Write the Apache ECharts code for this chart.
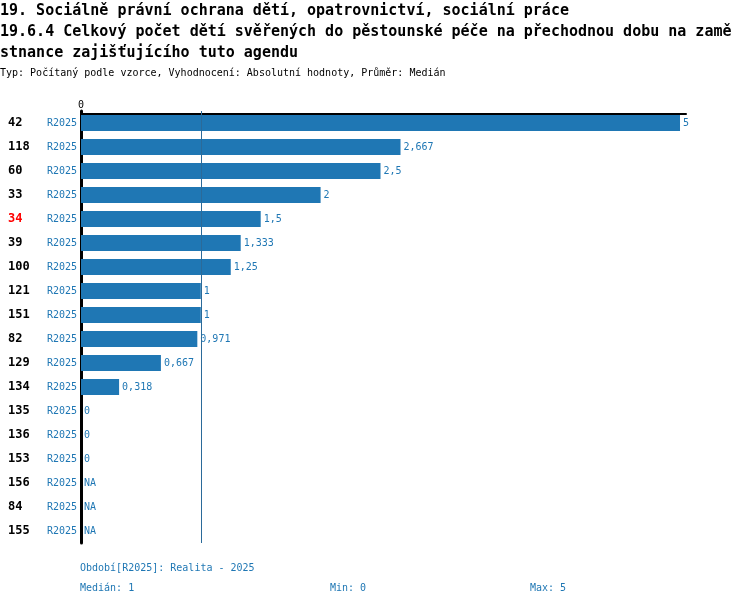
<!DOCTYPE html>
<html>
<head>
<meta charset="utf-8">
<script src="https://cdn.jsdelivr.net/npm/echarts@6/dist/echarts.min.js"></script>
<style>
  html, body { margin: 0; padding: 0; background: #fff; }
  #chart { width: 750px; height: 606px; }
</style>
</head>
<body>
<div id="chart"></div>
<script>
// data
const categories = ['42', '118', '60', '33', '34', '39', '100', '121', '151', '82', '129', '134', '135', '136', '153', '156', '84', '155']
const period = 'R2025'
const values = [5, 2.667, 2.5, 2, 1.5, 1.333, 1.25, 1, 1, 0.971, 0.667, 0.318, 0, 0, 0, null, null, null]
const highlighted = ['34']
const median = 1
const minValue = 0
const maxValue = 5

const mono = 'DejaVu Sans Mono'
const blue = '#1f77b4'

const fmt = (v) => String(v).replace('.', ',')

let chart = echarts.init(document.getElementById('chart'))

const option = {
    animation: false,
    textStyle: { fontFamily: mono },
    title: [
        {
            text: '19. Sociálně právní ochrana dětí, opatrovnictví, sociální práce\n19.6.4 Celkový počet dětí svěřených do pěstounské péče na přechodnou dobu na zamě\nstnance zajišťujícího tuto agendu',
            left: 0,
            top: 1,
            padding: 0,
            textStyle: { fontFamily: mono, fontSize: 15, fontWeight: 'bold', color: '#000', lineHeight: 21 }
        },
        {
            text: 'Typ: Počítaný podle vzorce, Vyhodnocení: Absolutní hodnoty, Průměr: Medián',
            left: 0,
            top: 68,
            padding: 0,
            textStyle: { fontFamily: mono, fontSize: 10, fontWeight: 'normal', color: '#000' }
        },
        {
            text: 'Období[' + period + ']: Realita - 2025',
            left: 80,
            top: 563,
            padding: 0,
            textStyle: { fontFamily: mono, fontSize: 10, fontWeight: 'normal', color: blue }
        },
        {
            text: 'Medián: ' + fmt(median),
            left: 80,
            top: 583,
            padding: 0,
            textStyle: { fontFamily: mono, fontSize: 10, fontWeight: 'normal', color: blue }
        },
        {
            text: 'Min: ' + fmt(minValue),
            left: 330,
            top: 583,
            padding: 0,
            textStyle: { fontFamily: mono, fontSize: 10, fontWeight: 'normal', color: blue }
        },
        {
            text: 'Max: ' + fmt(maxValue),
            left: 530,
            top: 583,
            padding: 0,
            textStyle: { fontFamily: mono, fontSize: 10, fontWeight: 'normal', color: blue }
        }
    ],
    grid: {
        left: 81,
        width: 605,
        top: 111,
        height: 432
    },
    xAxis: {
        type: 'value',
        position: 'top',
        min: 0,
        max: 5.05,
        interval: 5.05,
        offset: -3,
        axisLine: { show: true, lineStyle: { color: '#000', width: 2 } },
        axisTick: { show: false },
        splitLine: { show: false },
        axisLabel: {
            margin: 4,
            fontFamily: mono,
            fontSize: 10,
            color: '#000',
            formatter: (v) => (v === 0 ? '0' : '')
        }
    },
    yAxis: {
        type: 'category',
        inverse: true,
        data: categories,
        axisLine: { show: true, onZero: false, lineStyle: { color: '#000', width: 3 } },
        axisTick: { show: false },
        axisLabel: {
            margin: 4,
            interval: 0,
            formatter: (v) => (highlighted.includes(v) ? '{r|' + v + '}' : '{a|' + v + '}') + '{b|' + period + '}',
            rich: {
                a: { width: 39, align: 'left', fontFamily: mono, fontSize: 12, fontWeight: 'bold', color: '#000' },
                r: { width: 39, align: 'left', fontFamily: mono, fontSize: 12, fontWeight: 'bold', color: '#ff0000' },
                b: { width: 30, align: 'right', fontFamily: mono, fontSize: 10, color: blue }
            }
        }
    },
    series: [
        {
            type: 'bar',
            barWidth: 16,
            itemStyle: { color: blue },
            data: values.map(v => v === null
                ? { value: 0, label: { formatter: 'NA' } }
                : { value: v }),
            label: {
                show: true,
                position: 'right',
                distance: 3,
                fontFamily: mono,
                fontSize: 10,
                color: blue,
                formatter: (p) => fmt(p.value)
            },
            markLine: {
                silent: true,
                symbol: 'none',
                label: { show: false },
                lineStyle: { color: '#2b6a99', width: 1, type: 'solid' },
                data: [{ xAxis: median }]
            }
        }
    ]
}

chart.setOption(option)
window.addEventListener('resize', () => { chart.resize() })
</script>
</body>
</html>
